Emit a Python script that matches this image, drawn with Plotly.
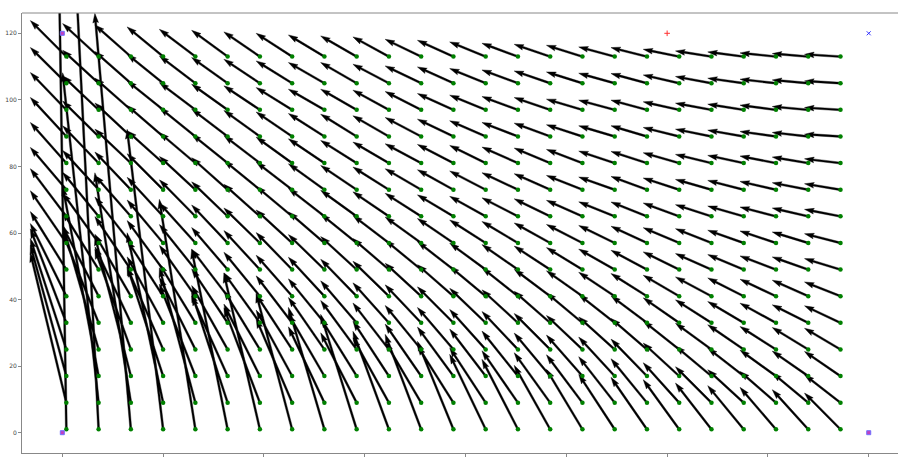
import math
import plotly.graph_objects as go

# grid of arrow tails (data units)
x_pos = [1, 9, 17, 25, 33, 41, 49, 57, 65, 73, 81, 89, 97, 105, 113, 121, 129, 137, 145, 153, 161, 169, 177, 185, 193]
y_pos = [113, 105, 97, 89, 81, 73, 65, 57, 49, 41, 33, 25, 17, 9, 1]

# vector components (quiver units); u is the same for every arrow
u_comp = -36.0
v_comp = [
    [36, 33, 31.7, 29.7, 27.3, 26.3, 24.7, 23.3, 21.7, 20.7, 19.7, 17.3, 16.3, 14.7, 13.3, 12.3, 11.3, 9.7, 9, 7.3, 5.7, 4.7, 3.7, 3, 2.3],
    [35.7, 33, 31.7, 29, 27.3, 25.7, 24, 22.3, 20.7, 20.7, 19, 17.3, 16.3, 14.7, 13.3, 12.3, 11.3, 10, 9.7, 8.3, 6.7, 5, 4, 3.3, 2.3],
    [37.3, 34, 31.7, 29, 27.3, 25.7, 24, 22.3, 20.7, 20.7, 19.7, 18.3, 16.3, 14.7, 13.3, 12.3, 10.7, 9.7, 9.7, 8, 6.7, 5.7, 4.7, 3.3, 2.3],
    [39, 35.5, 33.5, 31, 29, 27.5, 26, 24.5, 23, 22.3, 20.7, 19, 17.3, 15.7, 14, 13.3, 11.7, 10.7, 10.7, 9, 7.3, 6.3, 5, 4, 2.3],
    [40.6, 37.3, 34, 32.3, 30.5, 29, 27.5, 26, 24.3, 22.7, 21, 19.3, 18.7, 17.7, 16, 15, 13.7, 12, 11.7, 10.3, 8.7, 7.7, 7, 6, 4.3],
    [42.3, 39.3, 37.7, 36, 33.3, 32, 29.3, 27.7, 26, 24.3, 22.7, 21, 20, 18.7, 17, 16, 14.3, 12.7, 13.3, 11.7, 10.3, 9.3, 8.3, 7, 6],
    [47.7, 44, 41, 39, 36.5, 34.5, 32, 30, 28, 26, 24.5, 23, 21.5, 20, 18.5, 17.5, 16, 14.5, 14.3, 13.3, 11.7, 10.3, 9.3, 8.3, 7],
    [52.3, 50, 46, 43, 40, 38, 35, 33, 31, 29, 27.5, 26, 24.5, 23, 21.5, 20, 18.5, 17.5, 16.7, 15.3, 14.3, 12.7, 12, 11, 9.3],
    [58, 58, 53, 49, 45, 42, 39, 37, 35, 33, 31, 29.5, 28, 26.5, 25, 23.5, 22, 20.5, 19.3, 17.7, 16, 15, 13.7, 12.7, 11],
    [72.7, 70, 62, 56, 51, 47, 44, 41, 39, 37, 35, 33, 31.5, 30, 28.5, 27, 25.5, 24, 22.7, 21, 19.3, 18.3, 17, 16, 14.3],
    [94, 90, 76, 66, 59, 54, 50, 47, 44, 42, 40, 38, 36, 34.5, 33, 31.5, 30, 28.5, 27, 25, 23, 21.3, 19.7, 18, 17],
    [111, 125, 100, 82, 72, 64, 59, 55, 52, 49, 46.5, 44, 42, 40, 38, 36, 34, 32.5, 31, 28.5, 26.3, 24.7, 23, 22, 21.3],
    [131, 190, 140, 110, 92, 80, 72, 66, 62, 58, 55, 52, 49, 47, 45, 43, 41, 39, 37, 33, 30, 28, 26, 25, 24.7],
    [150, 330, 230, 170, 135, 110, 95, 84, 76, 70, 65, 61, 57, 55, 52, 50, 48, 46, 44, 40, 36, 33, 31.3, 30, 28],
    [2240, 715, 416, 300, 230, 180, 156, 136, 122, 115, 98, 95, 88, 75, 70, 64, 60, 55, 52, 49.7, 46.3, 43.7, 42, 39.7, 36.3],
]

# special points
mark_x = [0, 0, 200, 200, 150]
mark_y = [0, 120, 0, 120, 120]
mark_sym = ["square", "square", "square", "x-thin", "cross-thin"]
mark_col = ["#c040c0", "#c040c0", "#c040c0", "#3030ff", "#ff3030"]
mark_line = ["#7070ff", "#7070ff", "#7070ff", "#3030ff", "#ff3030"]

y_ticks = [0, 20, 40, 60, 80, 100, 120]
x_ticks = [0, 25, 50, 75, 100, 125, 150, 175, 200]

W, H = 898, 457
ML, MR, MT, MB = 22, 0, 13, 4
x_range = [-10, 207.26]
y_range = [-6.1, 126.1]
px_x = (W - ML - MR) / (x_range[1] - x_range[0])
px_y = (H - MT - MB) / (y_range[1] - y_range[0])
SCALE = 1.0      # screen pixels per vector unit
SHAFT_W = 1.9    # quiver shaft width in pixels
HEAD_W, HEAD_L, HEAD_AX = 3.0, 5.0, 4.5   # matplotlib quiver head proportions

fig = go.Figure()

px_list, py_list = [], []
tails_x, tails_y = [], []
for r, yy in enumerate(y_pos):
    for c, xx in enumerate(x_pos):
        dxp = SCALE * u_comp
        dyp = SCALE * v_comp[r][c]
        L = math.hypot(dxp, dyp)
        ex, ey = dxp / L, dyp / L
        nx, ny = -ey, ex
        w = SHAFT_W
        pts = [
            (0, 0.5 * w), (L - HEAD_AX * w, 0.5 * w), (L - HEAD_L * w, 0.5 * HEAD_W * w),
            (L, 0), (L - HEAD_L * w, -0.5 * HEAD_W * w), (L - HEAD_AX * w, -0.5 * w),
            (0, -0.5 * w), (0, 0.5 * w),
        ]
        for a, b in pts:
            ox = a * ex + b * nx
            oy = a * ey + b * ny
            px_list.append(xx + ox / px_x)
            py_list.append(yy + oy / px_y)
        px_list.append(None)
        py_list.append(None)
        tails_x.append(xx)
        tails_y.append(yy)

fig.add_trace(go.Scatter(x=px_list, y=py_list, mode="lines", fill="toself",
                         fillcolor="black", line=dict(color="black", width=0.4),
                         hoverinfo="skip"))
fig.add_trace(go.Scatter(x=tails_x, y=tails_y, mode="markers",
                         marker=dict(color="#008000", size=4.5), hoverinfo="skip"))
for mx, my, ms, mc, ml in zip(mark_x, mark_y, mark_sym, mark_col, mark_line):
    fig.add_trace(go.Scatter(x=[mx], y=[my], mode="markers",
                             marker=dict(symbol=ms, color=mc, size=4,
                                         line=dict(color=ml, width=1)),
                             hoverinfo="skip"))

fig.update_layout(
    width=W, height=H, margin=dict(l=ML, r=MR, t=MT, b=MB),
    paper_bgcolor="white", plot_bgcolor="white", showlegend=False,
    shapes=[dict(type="line", xref="paper", yref="paper", x0=0, x1=1, y0=1, y1=1,
                 line=dict(color="#888888", width=1))],
    font=dict(family="DejaVu Sans", size=6, color="#444444"),
)
fig.update_xaxes(range=x_range, tickvals=x_ticks, ticks="outside", ticklen=3,
                 tickcolor="#888888", showticklabels=False, showgrid=False,
                 zeroline=False, showline=True, linecolor="#888888", linewidth=1)
fig.update_yaxes(range=y_range, tickvals=y_ticks, ticks="outside", ticklen=3,
                 tickcolor="#888888", showgrid=False, zeroline=False,
                 showline=True, linecolor="#888888", linewidth=1,
                 tickfont=dict(size=6, color="#444444"))

fig.write_html("out.html")
